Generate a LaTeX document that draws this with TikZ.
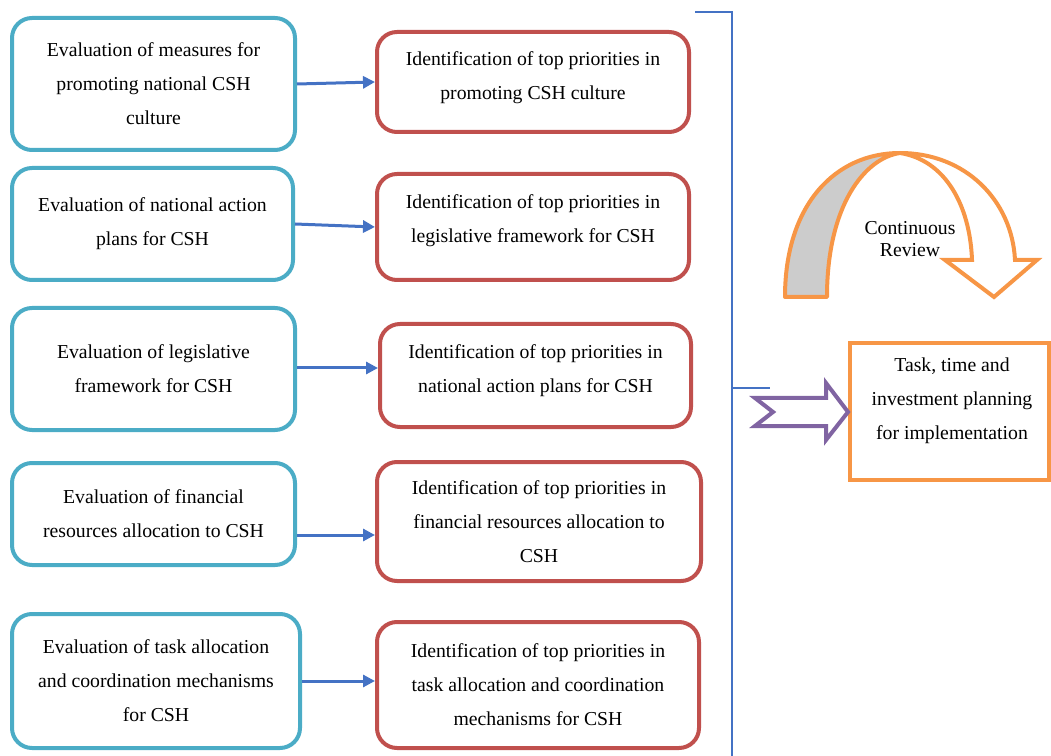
\documentclass[tikz,border=0pt]{standalone}
\usepackage{fontspec}
\setmainfont{Liberation Serif}
\usetikzlibrary{arrows.meta}

\definecolor{evalblue}{HTML}{4BACC6}
\definecolor{prired}{HTML}{C0504D}
\definecolor{linkblue}{HTML}{4472C4}
\definecolor{planorange}{HTML}{F79646}
\definecolor{revpurple}{HTML}{8064A2}

\begin{document}
\begin{tikzpicture}[x=0.75pt, y=-0.75pt,
  txt/.style={align=center, font=\fontsize{14.8}{25.5}\selectfont},
  evalbox/.style={txt, draw=evalblue, line width=3pt, rounded corners=15pt},
  pribox/.style={txt, draw=prired, line width=3pt, rounded corners=15pt},
  link/.style={draw=linkblue, line width=2.25pt, -{Triangle[length=9pt, width=9pt]}}]

\useasboundingbox (0,0) rectangle (1051,756);

% evaluation boxes
\node[evalbox, minimum width=212.25pt, minimum height=99pt] (e1) at (153.5,84) {Evaluation of measures for\\promoting national CSH\\culture};
\node[evalbox, minimum width=210.75pt, minimum height=84pt] (e2) at (152.5,224) {Evaluation of national action\\plans for CSH};
\node[evalbox, minimum width=212.25pt, minimum height=91.5pt] (e3) at (153.5,369) {Evaluation of legislative\\framework for CSH};
\node[evalbox, minimum width=212.25pt, minimum height=76.5pt] (e4) at (153.5,514) {Evaluation of financial\\resources allocation to CSH};
\node[evalbox, minimum width=216pt, minimum height=100.5pt] (e5) at (156,681) {Evaluation of task allocation\\and coordination mechanisms\\for CSH};

% priority boxes
\node[pribox, minimum width=234pt, minimum height=75pt, text depth=10pt] (p1) at (533,82) {Identification of top priorities in\\promoting CSH culture};
\node[pribox, minimum width=234pt, minimum height=79.5pt, text depth=12pt] (p2) at (533,227) {Identification of top priorities in\\legislative framework for CSH};
\node[pribox, minimum width=233.25pt, minimum height=77.25pt, text depth=10pt] (p3) at (535.5,375.5) {Identification of top priorities in\\national action plans for CSH};
\node[pribox, minimum width=243pt, minimum height=89.25pt] (p4) at (539,521.5) {Identification of top priorities in\\financial resources allocation to\\CSH};
\node[pribox, minimum width=241.5pt, minimum height=94.5pt] (p5) at (538,685) {Identification of top priorities in\\task allocation and coordination\\mechanisms for CSH};

\draw[link] (e1.east) -- (p1.west);
\draw[link] (e2.east) -- (p2.west);
\draw[link] ([yshift=0.75pt]e3.east) -- ([yshift=0.75pt]e3.east -| p3.west);
\draw[link] ([yshift=-15.75pt]e4.east) -- ([yshift=-15.75pt]e4.east -| p4.west);
\draw[link] (e5.east) -- (e5.east -| p5.west);

% bracket
\coordinate (btop) at (695,12);
\coordinate (bcorner) at (732,12);
\coordinate (bbottom) at (732,756);
\coordinate (bmid) at (732,388);
\coordinate (btick) at (770,388);
\draw[linkblue, line width=1.8pt] (btop) -- (bcorner) -- (bbottom);
\draw[linkblue, line width=1.5pt] (bmid) -- (btick);

% planning box
\node[draw=planorange, line width=3pt, minimum width=149.25pt, minimum height=102.75pt] (plan) at (949.5,411.5) {};
\node[txt] (plantext) at (952,401) {Task, time and\\investment planning\\for implementation};

% purple arrow
\draw[revpurple, line width=3pt, line join=miter, fill=white]
  (755,398) -- (826,398) -- (826,383) -- (848,412) -- (826,440) -- (826,426) -- (755,426) -- (773,412) -- cycle;

% continuous review arrow
\draw[planorange, line width=3pt, fill=black!20, line join=round]
  (785,297) .. controls (785,205) and (835,153) .. (900,153)
  .. controls (865,158) and (827,205) .. (827,297) -- cycle;
\draw[planorange, line width=3pt, fill=white, line join=miter]
  (900,153) .. controls (965,153) and (1012,200) .. (1015,260)
  -- (1037,260) -- (994,297) -- (945,260) -- (972,260)
  .. controls (970,205) and (945,160) .. (900,153) -- cycle;
\node[txt, font=\fontsize{14.8}{16.5}\selectfont] (review) at (910,239) {Continuous\\Review};

\end{tikzpicture}
\end{document}
